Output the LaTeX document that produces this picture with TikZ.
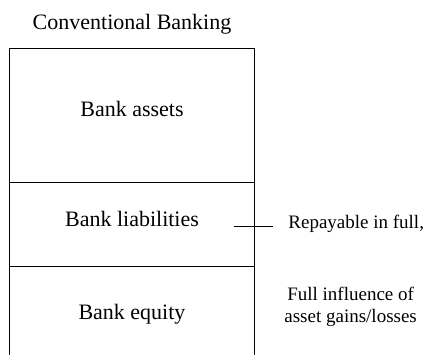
\documentclass[tikz,border=0pt]{standalone}
\usepackage{fontspec}
\setmainfont{Liberation Serif}
\usetikzlibrary{positioning}

\begin{document}
\begin{tikzpicture}[x=1pt,y=-1pt,node distance=0pt,
    part/.style={minimum width=244pt,inner sep=0pt,font=\fontsize{22}{26}\selectfont},
    note/.style={inner sep=0pt,align=center,font=\fontsize{19}{22}\selectfont},
    frame/.style={line width=1pt}]
  \useasboundingbox (0,0) rectangle (428,354);

  \node[part, minimum height=133pt, text depth=14pt] (assets) at (132,115.5) {Bank assets};
  \node[part, minimum height=84pt, text depth=12pt] (liab) [below=of assets] {Bank liabilities};
  \node[part, minimum height=88pt, text height=23pt] (equity) [below=of liab] {Bank equity};
  \node[part, minimum width=0pt] (title) [above=14pt of assets] {Conventional Banking};

  \node[note] (repay) [right=34pt of liab, yshift=1pt] {Repayable in full,};
  \node[note] (gains) [right=30pt of equity, yshift=4pt] {Full influence of\\asset gains/losses};

  \draw[frame] (equity.south west) -- (assets.north west) -- (assets.north east) -- (equity.south east);
  \draw[frame] (liab.north west) -- (liab.north east)
               (liab.south west) -- (liab.south east);

  \coordinate (tick) at ([xshift=-20pt,yshift=-2pt]liab.east);
  \draw[frame, shorten >=15pt] (tick) -- (tick -| repay.west);
\end{tikzpicture}
\end{document}
